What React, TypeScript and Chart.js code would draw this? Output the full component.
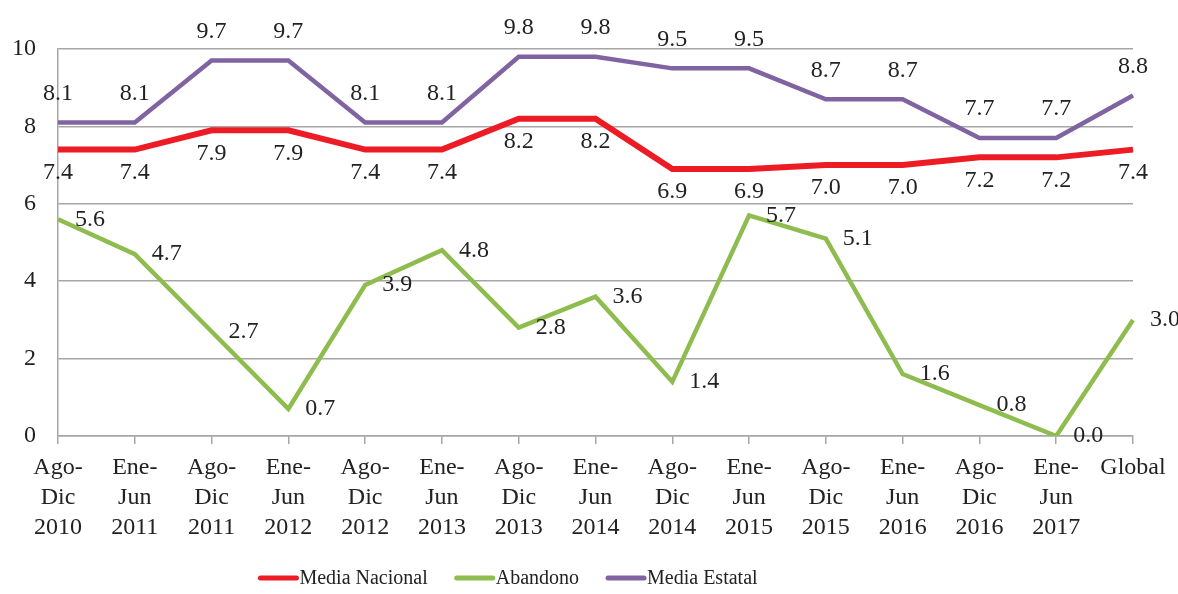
import React, { useEffect, useRef } from "react";
import { Chart, registerables } from "chart.js";

Chart.register(...registerables);

const categories: string[][] = [
  ["Ago-", "Dic", "2010"], ["Ene-", "Jun", "2011"], ["Ago-", "Dic", "2011"], ["Ene-", "Jun", "2012"],
  ["Ago-", "Dic", "2012"], ["Ene-", "Jun", "2013"], ["Ago-", "Dic", "2013"], ["Ene-", "Jun", "2014"],
  ["Ago-", "Dic", "2014"], ["Ene-", "Jun", "2015"], ["Ago-", "Dic", "2015"], ["Ene-", "Jun", "2016"],
  ["Ago-", "Dic", "2016"], ["Ene-", "Jun", "2017"], ["Global"],
];

const mediaNacional = [7.4, 7.4, 7.9, 7.9, 7.4, 7.4, 8.2, 8.2, 6.9, 6.9, 7.0, 7.0, 7.2, 7.2, 7.4];
const abandono = [5.6, 4.7, 2.7, 0.7, 3.9, 4.8, 2.8, 3.6, 1.4, 5.7, 5.1, 1.6, 0.8, 0.0, 3.0];
const mediaEstatal = [8.1, 8.1, 9.7, 9.7, 8.1, 8.1, 9.8, 9.8, 9.5, 9.5, 8.7, 8.7, 7.7, 7.7, 8.8];

const seriesNames = ["Media Nacional", "Abandono", "Media Estatal"];
const labelPlacement = ["below", "right", "above"];

const FONT = "'Liberation Serif', 'Times New Roman', serif";

const labelPlugin = {
  id: "valueLabels",
  afterDatasetsDraw(chart: any) {
    const ctx = chart.ctx;
    ctx.save();
    ctx.font = `24px ${FONT}`;
    ctx.fillStyle = "#222";
    chart.data.datasets.forEach((ds: any, di: number) => {
      const meta = chart.getDatasetMeta(di);
      const place = labelPlacement[di];
      meta.data.forEach((pt: any, i: number) => {
        const txt = Number(ds.data[i]).toFixed(1);
        let x = pt.x;
        let y = pt.y;
        if (place === "above") {
          ctx.textAlign = "center";
          ctx.textBaseline = "middle";
          y -= 29;
        } else if (place === "below") {
          ctx.textAlign = "center";
          ctx.textBaseline = "middle";
          y += 23;
        } else {
          ctx.textAlign = "left";
          ctx.textBaseline = "middle";
          x += 17;
        }
        ctx.fillText(txt, x, y);
      });
    });
    ctx.restore();
  },
};

const legendPlugin = {
  id: "customLegend",
  afterDraw(chart: any) {
    const ctx = chart.ctx;
    ctx.save();
    ctx.font = `20px ${FONT}`;
    ctx.textBaseline = "middle";
    ctx.textAlign = "left";
    const lineW = 40;
    const gap = 1;
    const itemGap = 27;
    const items = chart.data.datasets.map((ds: any) => ({
      label: ds.label,
      color: ds.borderColor,
      w: lineW + gap + ctx.measureText(ds.label).width,
    }));
    const total = items.reduce((s: number, it: any) => s + it.w, 0) + itemGap * (items.length - 1);
    let x = 508 - total / 2;
    const y = 578;
    items.forEach((it: any) => {
      ctx.strokeStyle = it.color;
      ctx.lineWidth = 5;
      ctx.lineCap = "round";
      ctx.beginPath();
      ctx.moveTo(x + 2, y);
      ctx.lineTo(x + lineW - 2, y);
      ctx.stroke();
      ctx.fillStyle = "#222";
      ctx.fillText(it.label, x + lineW + gap, y + 1);
      x += it.w + itemGap;
    });
    ctx.restore();
  },
};

export default function App() {
  const ref = useRef<HTMLCanvasElement>(null);

  useEffect(() => {
    document.body.style.margin = "0";
    const canvas = ref.current!;
    const chart = new Chart(canvas, {
      type: "line",
      data: {
        labels: categories,
        datasets: [
          {
            label: seriesNames[0],
            data: mediaNacional,
            borderColor: "#ed1c24",
            backgroundColor: "#ed1c24",
            borderWidth: 6,
            pointRadius: 0,
            tension: 0,
          },
          {
            label: seriesNames[1],
            data: abandono,
            borderColor: "#8fbc4f",
            backgroundColor: "#8fbc4f",
            borderWidth: 4.5,
            pointRadius: 0,
            tension: 0,
          },
          {
            label: seriesNames[2],
            data: mediaEstatal,
            borderColor: "#8064a2",
            backgroundColor: "#8064a2",
            borderWidth: 4.5,
            pointRadius: 0,
            tension: 0,
          },
        ],
      },
      options: {
        animation: false,
        responsive: false,
        devicePixelRatio: 1,
        layout: { padding: { top: 49, right: 45, left: 0, bottom: 0 } },
        plugins: {
          legend: { display: false },
          tooltip: { enabled: false },
        },
        scales: {
          x: {
            offset: false,
            grid: {
              drawOnChartArea: false,
              drawTicks: true,
              tickLength: 8,
              color: "#a6a6a6",
              lineWidth: 1.5,
            },
            border: { color: "#a6a6a6", width: 1.5 },
            ticks: {
              color: "#222",
              font: { family: FONT, size: 24, lineHeight: 1.24 },
              padding: 9,
              maxRotation: 0,
              autoSkip: false,
            },
            afterFit: (scale: any) => {
              scale.height = 158;
            },
          },
          y: {
            min: 0,
            max: 10,
            ticks: {
              stepSize: 2,
              color: "#222",
              font: { family: FONT, size: 24 },
              padding: 22,
            },
            grid: {
              color: "#a6a6a6",
              lineWidth: 1.5,
              drawTicks: false,
            },
            border: { color: "#a6a6a6", width: 1.5 },
            afterFit: (scale: any) => {
              scale.width = 58;
            },
          },
        },
      },
      plugins: [labelPlugin, legendPlugin],
    });
    return () => chart.destroy();
  }, []);

  return (
    <div style={{ position: "absolute", left: 0, top: 0, width: 1178, height: 594, background: "#fff" }}>
      <canvas ref={ref} width={1178} height={594} />
    </div>
  );
}
